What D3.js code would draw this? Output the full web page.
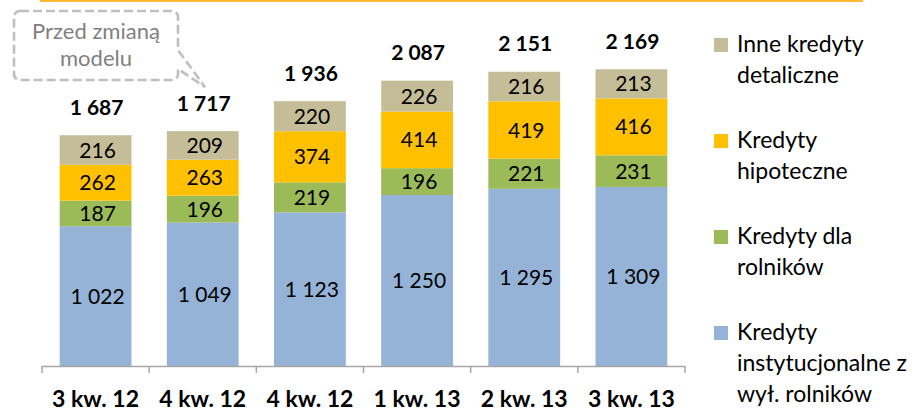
<!DOCTYPE html>
<html>
<head>
<meta charset="utf-8">
<script src="https://cdn.jsdelivr.net/npm/d3@7"></script>
<style>
  body { margin: 0; background: #fff; }
  svg { display: block; font-family: Lato, "Open Sans", sans-serif; }
</style>
</head>
<body>
<div id="canvas"></div>
<script>
// data
let categories = ["3 kw. 12", "4 kw. 12", "4 kw. 12", "1 kw. 13", "2 kw. 13", "3 kw. 13"];
let instytucjonalne = [1022, 1049, 1123, 1250, 1295, 1309];
let rolnicy = [187, 196, 219, 196, 221, 231];
let hipoteczne = [262, 263, 374, 414, 419, 416];
let inne = [216, 209, 220, 226, 216, 213];
let totals = [1687, 1717, 1936, 2087, 2151, 2169];

let seriesKeys = ["inst", "rol", "hip", "inne"];
let seriesColors = ["#95B3D7", "#9BBB59", "#FFC000", "#C4BD97"];
let legendLabels = [
    ["Inne kredyty", "detaliczne"],
    ["Kredyty", "hipoteczne"],
    ["Kredyty dla", "rolników"],
    ["Kredyty", "instytucjonalne z", "wył. rolników"]
];
let legendColors = ["#C4BD97", "#FFC000", "#9BBB59", "#95B3D7"];
let noteLines = ["Przed zmianą", "modelu"];

const width = 916, height = 411;
const plot = { left: 42, right: 685, bottom: 366, top: 24 };

let rows = categories.map((c, i) => ({
    i: i,
    cat: c,
    inst: instytucjonalne[i],
    rol: rolnicy[i],
    hip: hipoteczne[i],
    inne: inne[i]
}));

const pl = d3.formatLocale({ decimal: ",", thousands: " ", grouping: [3], currency: ["", ""] });
const fmt = pl.format(",d");

const svg = d3.select("#canvas")
    .append("svg")
    .attr("width", width)
    .attr("height", height);

// orange line on top
svg.append("rect")
    .attr("x", 40).attr("y", 0)
    .attr("width", 823).attr("height", 2)
    .attr("fill", "#FBBA30");

const x = d3.scaleBand()
    .domain(rows.map(d => d.i))
    .range([plot.left, plot.right])
    .paddingInner(0.33)
    .paddingOuter(0.165);

const y = d3.scaleLinear()
    .domain([0, 2500])
    .range([plot.bottom, plot.top]);

const stacked = d3.stack().keys(seriesKeys)(rows);

const groups = svg.selectAll("g.serie")
    .data(stacked)
    .join("g")
    .attr("class", "serie")
    .attr("fill", (d, i) => seriesColors[i]);

groups.selectAll("rect")
    .data(d => d)
    .join("rect")
    .attr("x", d => x(d.data.i))
    .attr("y", d => y(d[1]))
    .attr("width", x.bandwidth())
    .attr("height", d => y(d[0]) - y(d[1]));

// values inside segments
groups.selectAll("text")
    .data((d, i) => d.map(v => ({ v: v, key: seriesKeys[i] })))
    .join("text")
    .attr("x", d => x(d.v.data.i) + x.bandwidth() / 2 + 2)
    .attr("y", d => (y(d.v[0]) + y(d.v[1])) / 2)
    .attr("dy", "0.36em")
    .attr("text-anchor", "middle")
    .attr("fill", "#000")
    .attr("font-size", 21)
    .text(d => fmt(d.v.data[d.key]));

// totals above the bars
svg.append("g")
    .selectAll("text")
    .data(rows)
    .join("text")
    .attr("x", d => x(d.i) + x.bandwidth() / 2 + 1)
    .attr("y", d => y(stacked[3][d.i][1]) - 28)
    .attr("dy", "0.36em")
    .attr("text-anchor", "middle")
    .attr("font-size", 21)
    .attr("font-weight", "bold")
    .text(d => fmt(totals[d.i]));

// x axis
const xAxis = svg.append("g")
    .attr("transform", `translate(0,${plot.bottom})`);
xAxis.append("line")
    .attr("x1", plot.left).attr("x2", plot.right)
    .attr("y1", 0.5).attr("y2", 0.5)
    .attr("stroke", "#A6A6A6").attr("stroke-width", 1.5);
let step = x.step();
xAxis.selectAll("line.tick")
    .data(d3.range(categories.length + 1))
    .join("line")
    .attr("class", "tick")
    .attr("x1", i => plot.left + i * step)
    .attr("x2", i => plot.left + i * step)
    .attr("y1", 0).attr("y2", 7)
    .attr("stroke", "#A6A6A6").attr("stroke-width", 1.5);
xAxis.selectAll("text")
    .data(rows)
    .join("text")
    .attr("x", d => x(d.i) + x.bandwidth() / 2)
    .attr("y", 41)
    .attr("text-anchor", "middle")
    .attr("font-size", 23)
    .attr("font-weight", "bold")
    .text(d => d.cat);

// legend
const legend = svg.append("g");
legendLabels.forEach((lines, i) => {
    let base = 52 + 96 * i;
    legend.append("rect")
        .attr("x", 714).attr("y", base - 14)
        .attr("width", 14).attr("height", 14)
        .attr("fill", legendColors[i]);
    legend.append("text")
        .attr("x", 737)
        .attr("y", base)
        .attr("font-size", 23)
        .attr("fill", "#000")
        .selectAll("tspan")
        .data(lines)
        .join("tspan")
        .attr("x", 737)
        .attr("dy", (d, j) => j === 0 ? 0 : 31)
        .text(d => d);
});

// callout "Przed zmianą modelu"
const p = d3.path();
let bx0 = 14, by0 = 11, bx1 = 178, by1 = 80, r = 6;
p.moveTo(bx0 + r, by0);
p.lineTo(bx1 - r, by0);
p.arcTo(bx1, by0, bx1, by0 + r, r);
p.lineTo(bx1, 50);
p.lineTo(205, 87);
p.lineTo(bx1, 69);
p.lineTo(bx1, by1 - r);
p.arcTo(bx1, by1, bx1 - r, by1, r);
p.lineTo(bx0 + r, by1);
p.arcTo(bx0, by1, bx0, by1 - r, r);
p.lineTo(bx0, by0 + r);
p.arcTo(bx0, by0, bx0 + r, by0, r);
p.closePath();

svg.append("path")
    .attr("d", p.toString())
    .attr("fill", "#fff")
    .attr("stroke", "#BFBFBF")
    .attr("stroke-width", 2.6)
    .attr("stroke-dasharray", "9,4");

svg.append("g")
    .selectAll("text")
    .data(noteLines)
    .join("text")
    .attr("x", 96)
    .attr("y", (d, i) => 39 + i * 27)
    .attr("text-anchor", "middle")
    .attr("font-size", 22)
    .attr("fill", "#7F7F7F")
    .text(d => d);
</script>
</body>
</html>
